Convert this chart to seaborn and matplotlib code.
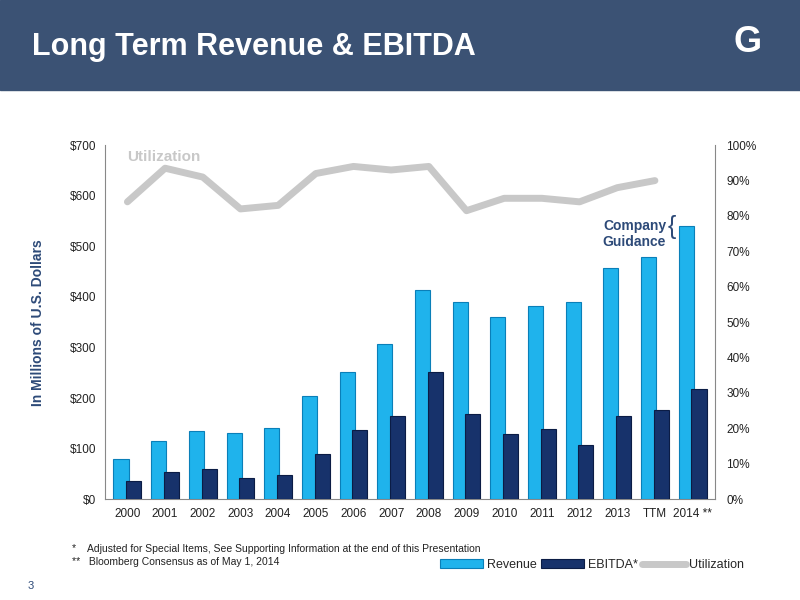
import matplotlib
matplotlib.use("Agg")
import matplotlib.pyplot as plt
import seaborn as sns
import pandas as pd
import numpy as np
from matplotlib.patches import Rectangle

years = ["2000","2001","2002","2003","2004","2005","2006","2007","2008","2009","2010","2011","2012","2013","TTM","2014 **"]
revenue = [79,115,134,130,140,204,251,306,413,389,360,383,389,457,478,540]
ebitda = [36,53,59,42,47,89,136,164,251,168,128,138,107,164,176,217]
utilization = [84,93.5,91,82,83,92,94,93,94,81.5,85,85,84,88,90,None]

sns.set_style("white")
plt.rcParams['font.family'] = ['Liberation Sans', 'DejaVu Sans']

fig = plt.figure(figsize=(8, 6), dpi=100)
fig.patches.append(Rectangle((0, 0.85), 1, 0.15, transform=fig.transFigure, color="#3b5274", zorder=0))
fig.text(0.04, 0.922, "Long Term Revenue & EBITDA", color="white", fontsize=22, fontweight="bold", va="center")
fig.text(0.935, 0.93, "G", color="white", fontsize=26, fontweight="bold", va="center", ha="center")

ax = fig.add_axes([0.131, 0.168, 0.763, 0.59])
x = np.arange(len(years))
w = 0.4
ax.bar(x - w/2 + 0.03, revenue, width=w, color="#1fb3ec", edgecolor="#0a7fb8", linewidth=0.8, label="Revenue", zorder=3)
ax.bar(x + w/2 - 0.03, ebitda, width=w, color="#17326b", edgecolor="#0b1c45", linewidth=0.8, label="EBITDA*", zorder=3)
ax.set_ylim(0, 700)
ax.set_xlim(-0.6, len(years) - 0.4)
ax.set_yticks(range(0, 701, 100))
ax.set_yticklabels([f"${v}" for v in range(0, 701, 100)])
ax.set_xticks(x)
ax.set_xticklabels(years)
ax.grid(False)
for s in ["top", "right"]:
    ax.spines[s].set_visible(False)
ax.spines["left"].set_color("#888888")
ax.spines["bottom"].set_color("#888888")
ax.tick_params(labelsize=8.5, colors="#222222", length=0, pad=6)
ax.set_ylabel("In Millions of U.S. Dollars", fontsize=10, fontweight="bold", color="#2d4a78", labelpad=18)

ax2 = ax.twinx()
ut = pd.DataFrame({"x": x, "u": utilization}).dropna()
sns.lineplot(data=ut, x="x", y="u", ax=ax2, color="#c8c8c8", linewidth=5, label="Utilization", legend=False, zorder=4)
ax2.set_ylim(0, 100)
ax2.set_yticks(range(0, 101, 10))
ax2.set_yticklabels([f"{v}%" for v in range(0, 101, 10)])
ax2.tick_params(labelsize=8.5, colors="#222222", length=0, pad=8)
ax2.set_ylabel("")
ax2.grid(False)
for s in ["top", "left", "bottom"]:
    ax2.spines[s].set_visible(False)
ax2.spines["right"].set_color("#888888")
ax2.text(0.0, 95.5, "Utilization", color="#c8c8c8", fontsize=11, fontweight="bold")
ax2.text(14.3, 75, "Company\nGuidance", color="#2d4a78", fontsize=10, fontweight="bold", ha="right", va="center")
ax2.text(14.35, 77, "{", color="#2d4a78", fontsize=18, va="center")

h1, l1 = ax.get_legend_handles_labels()
h2, l2 = ax2.get_legend_handles_labels()
fig.legend(h1 + h2, l1 + l2, loc="center", bbox_to_anchor=(0.74, 0.058), ncol=3, frameon=False, fontsize=9,
           handlelength=3.5, columnspacing=0.3, handletextpad=0.3)

fig.text(0.09, 0.08, "*    Adjusted for Special Items, See Supporting Information at the end of this Presentation", fontsize=7.5, color="#222222")
fig.text(0.09, 0.058, "**   Bloomberg Consensus as of May 1, 2014", fontsize=7.5, color="#222222")
fig.text(0.035, 0.018, "3", fontsize=8, color="#2d4a78")

fig.savefig("out.png", dpi=100)
